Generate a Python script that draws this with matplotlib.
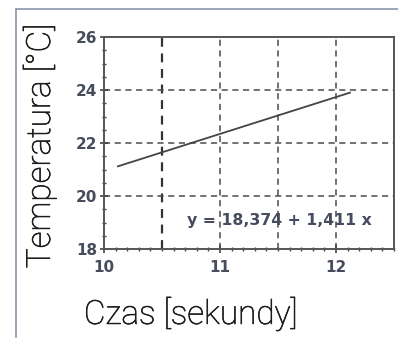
import matplotlib
matplotlib.use("Agg")
import matplotlib.pyplot as plt
import matplotlib.patheffects as pe
from matplotlib.lines import Line2D
from matplotlib.ticker import MultipleLocator

# data
x_line = [10.12, 12.12]
y_line = [21.12, 23.9]
x_ticks = [10, 11, 12]
y_ticks = [18, 20, 22, 24, 26]
equation = "y = 18,374 + 1,411 x"
xlabel = "Czas [sekundy]"
ylabel = "Temperatura [°C]"

W, H = 398, 338
fig = plt.figure(figsize=(W / 100, H / 100), dpi=100)
fig.patch.set_facecolor("white")

# outer frame lines
fc = "#8797ad"
fig.add_artist(Line2D([15.5 / W, 15.5 / W], [0, 1 - 8.7 / H], transform=fig.transFigure, color=fc, lw=1.2))
fig.add_artist(Line2D([15.5 / W, 1], [1 - 8.7 / H, 1 - 8.7 / H], transform=fig.transFigure, color=fc, lw=1.2))

ax = fig.add_axes([104 / W, 1 - 249 / H, 290 / W, 212 / H])
ax.set_xlim(10, 12.5)
ax.set_ylim(18, 26)
ax.set_xticks(x_ticks)
ax.set_yticks(y_ticks)
ax.xaxis.set_minor_locator(MultipleLocator(0.1))
ax.yaxis.set_minor_locator(MultipleLocator(0.5))

tc = "#464b5e"
ax.tick_params(axis="both", which="major", direction="inout", length=6, width=1.2, color="#444444",
               labelsize=11, labelcolor=tc)
ax.tick_params(axis="x", which="major", pad=5)
ax.tick_params(axis="y", which="major", pad=2)
ax.tick_params(axis="both", which="minor", direction="inout", length=3, width=1.0, color="#444444")
for lab in ax.get_xticklabels() + ax.get_yticklabels():
    lab.set_fontweight("bold")
    lab.set_family("DejaVu Sans")

for s in ax.spines.values():
    s.set_color("#555555")
    s.set_linewidth(1.4)

# grid
gc = "#4a4a4a"
for xv in [10.5, 11, 11.5, 12]:
    ax.axvline(xv, color="#333333" if xv == 10.5 else gc, lw=1.6 if xv == 10.5 else 1.1,
               ls=(0, (4, 3)), zorder=1)
for yv in [20, 22, 24]:
    ax.axhline(yv, color=gc, lw=1.1, ls=(0, (4, 3)), zorder=1)

ax.plot(x_line, y_line, color="#444444", lw=1.3, zorder=3)

ax.text(83 / 290, 1 - 183 / 212, equation, transform=ax.transAxes, fontsize=11.3, fontweight="bold",
        color=tc, family="DejaVu Sans", ha="left", va="center")

lc = "#1a1a1a"
thick = [pe.withStroke(linewidth=0.4, foreground=lc)]
fig.text(40 / W, 1 - 146 / H, ylabel, rotation=90, fontsize=24, family="Roboto",
         fontweight="light", color=lc, ha="center", va="center", path_effects=thick)
fig.text(191 / W, 1 - 314 / H, xlabel, fontsize=24, family="Roboto",
         fontweight="light", color=lc, ha="center", va="center", path_effects=thick)

fig.savefig("out.png", dpi=100)
